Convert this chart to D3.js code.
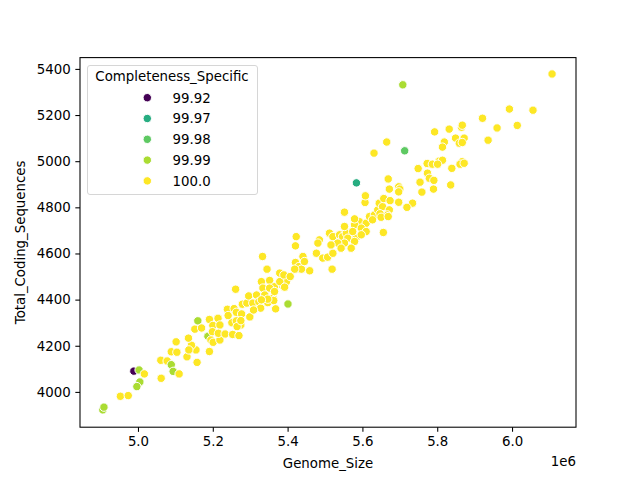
<!DOCTYPE html>
<html>
<head>
<meta charset="utf-8">
<script src="https://cdn.jsdelivr.net/npm/d3@7"></script>
<style>
  body { margin: 0; background: #fff; }
  text { font-family: "DejaVu Sans", sans-serif; fill: #000; }
</style>
</head>
<body>
<div id="chart"></div>
<script>
// values
var genomeSize = [
  4906000, 4909000, 4953000, 4974000, 4989000, 5003000, 5017000, 5005000, 4997000, 5062000,
  5061000, 5078000, 5089000, 5094000, 5110000, 5089000, 5104000, 5102000, 5131000, 5155000,
  5143000, 5135000, 5158000, 5160000, 5152000, 5170000, 5136000, 5191000, 5191000, 5214000,
  5200000, 5219000, 5187000, 5199000, 5195000, 5201000, 5219000, 5215000, 5233000, 5253000,
  5270000, 5251000, 5263000, 5275000, 5239000, 5257000, 5241000, 5263000, 5279000, 5291000,
  5299000, 5277000, 5265000, 5275000, 5261000, 5330000, 5352000, 5334000, 5365000, 5387000,
  5397000, 5379000, 5296000, 5317000, 5339000, 5361000, 5307000, 5323000, 5347000, 5363000,
  5328000, 5309000, 5368000, 5401000, 5333000, 5345000, 5392000, 5352000, 5365000, 5347000,
  5330000, 5379000, 5390000, 5407000, 5421000, 5441000, 5430000, 5437000, 5459000, 5419000,
  5445000, 5423000, 5421000, 5477000, 5494000, 5507000, 5519000, 5521000, 5485000, 5481000,
  5512000, 5521000, 5539000, 5547000, 5557000, 5561000, 5583000, 5579000, 5552000, 5534000,
  5516000, 5570000, 5543000, 5592000, 5610000, 5552000, 5579000, 5597000, 5574000, 5610000,
  5552000, 5579000, 5619000, 5632000, 5641000, 5607000, 5597000, 5656000, 5584000, 5627000,
  5645000, 5654000, 5672000, 5667000, 5647000, 5650000, 5608000, 5657000, 5697000, 5734000,
  5719000, 5669000, 5672000, 5697000, 5700000, 5697000, 5674000, 5669000, 5665000, 5631000,
  5713000, 5708000, 5793000, 5832000, 5865000, 5867000, 5921000, 5960000, 6014000, 5993000,
  6056000, 6107000, 5849000, 5872000, 5819000, 5814000, 5859000, 5867000, 5936000, 5749000,
  5773000, 5787000, 5805000, 5814000, 5801000, 5867000, 5861000, 5872000, 5839000, 5774000,
  5779000, 5791000, 5754000, 5836000, 5790000, 5759000
];
var codingSeqs = [
  3922, 3934, 3981, 3984, 4090, 4095, 4078, 4043, 4023, 4059,
  4137, 4134, 4118, 4089, 4078, 4174, 4172, 4217, 4152, 4182,
  4202, 4233, 4128, 4308, 4272, 4277, 4182, 4175, 4314, 4319,
  4288, 4290, 4241, 4261, 4225, 4215, 4225, 4254, 4251, 4249,
  4244, 4300, 4308, 4290, 4358, 4361, 4331, 4345, 4380, 4385,
  4325, 4338, 4283, 4309, 4445, 4478, 4483, 4450, 4456, 4459,
  4478, 4478, 4416, 4420, 4420, 4406, 4385, 4391, 4387, 4396,
  4363, 4355, 4360, 4381, 4587, 4532, 4454, 4450, 4435, 4402,
  4399, 4515, 4507, 4500, 4561, 4587, 4543, 4532, 4525, 4532,
  4565, 4673, 4633, 4601, 4580, 4584, 4532, 4601, 4659, 4645,
  4688, 4673, 4681, 4673, 4688, 4666, 4666, 4652, 4645, 4645,
  4637, 4623, 4623, 4738, 4731, 4717, 4724, 4710, 4695, 4695,
  4779, 4750, 4760, 4767, 4789, 4821, 4681, 4691, 4906, 4746,
  4818, 4803, 4789, 4767, 4772, 4757, 4850, 4838, 4822, 4818,
  4800, 4923, 4879, 4889, 4879, 4867, 4829, 4760, 5083, 5035,
  5045, 5331, 5127, 5139, 5147, 5156, 5186, 5144, 5155, 5226,
  5221, 5378, 5100, 5100, 5083, 5061, 5078, 5081, 5091, 4968,
  4990, 4987, 5000, 5004, 4987, 4998, 4987, 4991, 4969, 4948,
  4926, 4917, 4909, 4897, 4879, 4866
];
var completeness = [
  99.99, 99.99, 100, 100, 99.92, 99.99, 100, 99.99, 99.99, 100,
  100, 100, 99.99, 99.99, 100, 100, 100, 100, 100, 100,
  100, 100, 100, 99.99, 100, 100, 100, 100, 100, 100,
  100, 100, 99.99, 100, 100, 100, 100, 100, 100, 100,
  100, 100, 100, 100, 100, 100, 100, 100, 100, 100,
  100, 100, 100, 100, 100, 100, 100, 100, 100, 100,
  100, 100, 100, 100, 100, 100, 100, 100, 100, 100,
  100, 100, 100, 99.99, 100, 100, 100, 100, 100, 100,
  100, 100, 100, 100, 100, 100, 100, 100, 100, 100,
  100, 100, 100, 100, 100, 100, 100, 100, 100, 100,
  100, 100, 100, 100, 100, 100, 100, 100, 100, 100,
  100, 100, 100, 100, 100, 100, 100, 100, 100, 100,
  100, 100, 100, 100, 100, 100, 100, 100, 99.97, 100,
  100, 100, 100, 100, 100, 100, 100, 100, 100, 100,
  100, 100, 100, 100, 100, 100, 100, 100, 100, 100,
  99.98, 99.99, 100, 100, 100, 100, 100, 100, 100, 100,
  100, 100, 100, 100, 100, 100, 100, 100, 100, 100,
  100, 100, 100, 100, 100, 100, 100, 100, 100, 100,
  100, 100, 100, 100, 100, 100
];
var legendLevels = [99.92, 99.97, 99.98, 99.99, 100.0];
var legendLabels = ["99.92", "99.97", "99.98", "99.99", "100.0"];
var xTicks = [5.0e6, 5.2e6, 5.4e6, 5.6e6, 5.8e6, 6.0e6];
var yTicks = [4000, 4200, 4400, 4600, 4800, 5000, 5200, 5400];

var data = genomeSize.map(function (g, i) {
    return { size: g, cds: codingSeqs[i], comp: completeness[i] };
});

var width = 640, height = 480;
var margin = { top: 57.6, right: 64, bottom: 52.8, left: 80 };

var svg = d3.select("#chart").append("svg")
    .attr("width", width)
    .attr("height", height);

var x = d3.scaleLinear()
    .domain([4.845e6, 6.171e6])
    .range([margin.left, width - margin.right]);

var y = d3.scaleLinear()
    .domain([3847, 5449])
    .range([height - margin.bottom, margin.top]);

var hue = d3.scaleSequential(d3.interpolateViridis)
    .domain([99.92, 100.0]);

var fs = "13.33px";

// x axis
var xAxis = svg.append("g")
    .attr("transform", "translate(0," + (height - margin.bottom) + ")")
    .call(d3.axisBottom(x).tickValues(xTicks).tickSize(4.67).tickPadding(4.67)
        .tickFormat(function (d) { return (d / 1e6).toFixed(1); }));
xAxis.select(".domain").remove();
xAxis.selectAll("line").attr("stroke", "#000").attr("stroke-width", 1.07);
xAxis.selectAll("text").style("font-size", fs).style("font-family", "DejaVu Sans");

// y axis
var yAxis = svg.append("g")
    .attr("transform", "translate(" + margin.left + ",0)")
    .call(d3.axisLeft(y).tickValues(yTicks).tickSize(4.67).tickPadding(4.67)
        .tickFormat(d3.format("d")));
yAxis.select(".domain").remove();
yAxis.selectAll("line").attr("stroke", "#000").attr("stroke-width", 1.07);
yAxis.selectAll("text").style("font-size", fs).style("font-family", "DejaVu Sans");

// points
svg.append("g")
    .selectAll("circle")
    .data(data)
    .enter().append("circle")
    .attr("cx", function (d) { return x(d.size); })
    .attr("cy", function (d) { return y(d.cds); })
    .attr("r", 4.2)
    .attr("fill", function (d) { return hue(d.comp); })
    .attr("stroke", "#fff")
    .attr("stroke-width", 1);

// frame
svg.append("rect")
    .attr("x", margin.left)
    .attr("y", margin.top)
    .attr("width", width - margin.left - margin.right)
    .attr("height", height - margin.top - margin.bottom)
    .attr("fill", "none")
    .attr("stroke", "#000")
    .attr("stroke-width", 1.07);

// axis labels
svg.append("text")
    .attr("x", (margin.left + width - margin.right) / 2)
    .attr("y", 468)
    .attr("text-anchor", "middle")
    .style("font-size", fs)
    .text("Genome_Size");

svg.append("text")
    .attr("x", width - margin.right)
    .attr("y", 466)
    .attr("text-anchor", "end")
    .style("font-size", fs)
    .text("1e6");

svg.append("text")
    .attr("transform", "translate(25," + ((margin.top + height - margin.bottom) / 2) + ") rotate(-90)")
    .attr("text-anchor", "middle")
    .style("font-size", fs)
    .text("Total_Coding_Sequences");

// legend
var lg = svg.append("g");
lg.append("rect")
    .attr("x", 87.5).attr("y", 65.5)
    .attr("width", 170).attr("height", 129)
    .attr("rx", 2.5)
    .attr("fill", "#fff").attr("fill-opacity", 0.8)
    .attr("stroke", "#d6d6d6").attr("stroke-width", 1);
lg.append("text")
    .attr("x", 172).attr("y", 81)
    .attr("text-anchor", "middle")
    .style("font-size", fs)
    .text("Completeness_Specific");
legendLevels.forEach(function (v, i) {
    var cy = 97.7 + i * 20.8;
    lg.append("circle")
        .attr("cx", 147.3).attr("cy", cy).attr("r", 4.2)
        .attr("fill", hue(v))
        .attr("stroke", "#fff").attr("stroke-width", 1);
    lg.append("text")
        .attr("x", 172.5).attr("y", cy + 4.8)
        .style("font-size", fs)
        .text(legendLabels[i]);
});
</script>
</body>
</html>
